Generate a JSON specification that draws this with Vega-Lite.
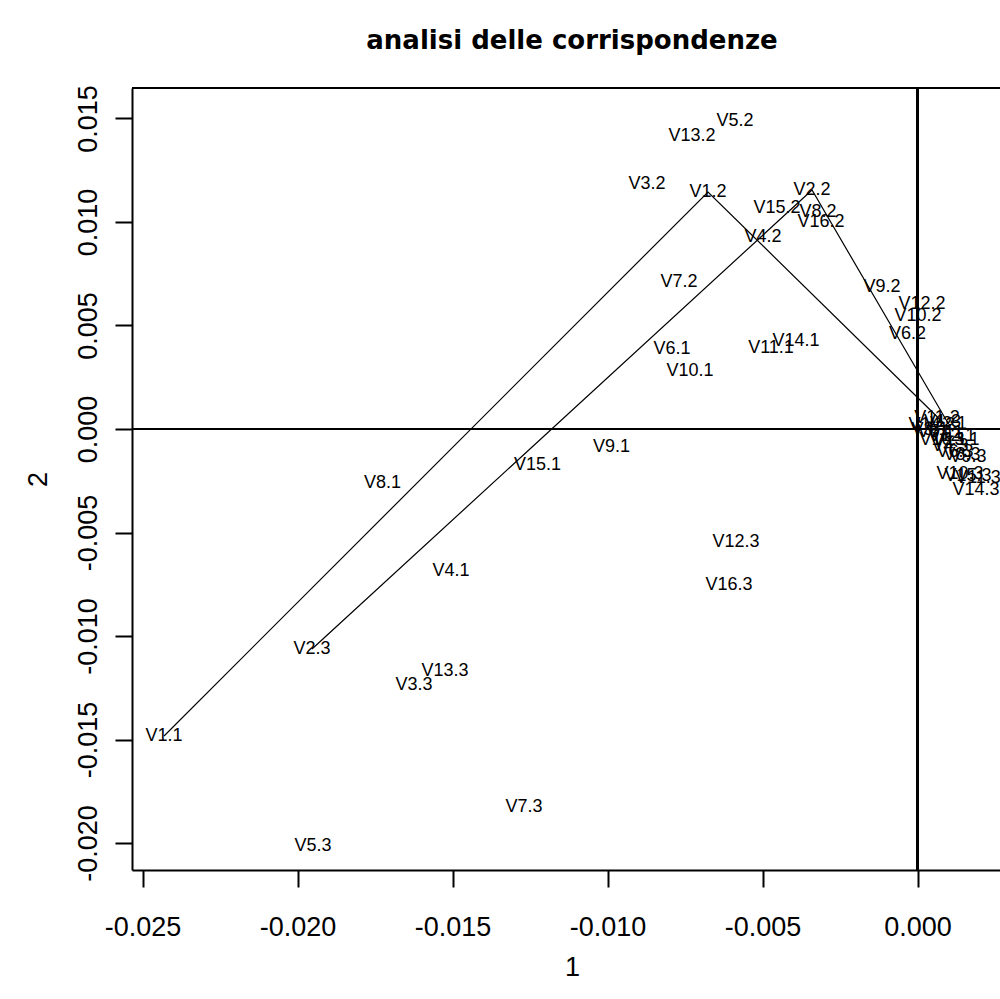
{
  "$schema": "https://vega.github.io/schema/vega-lite/v6.json",
  "autosize": "none",
  "width": 868,
  "height": 782,
  "padding": {"left": 132, "top": 88, "right": 0, "bottom": 129},
  "background": "white",
  "title": {
    "text": "analisi delle corrispondenze",
    "font": "DejaVu Sans",
    "fontWeight": "bold",
    "fontSize": 26,
    "color": "black",
    "anchor": "middle",
    "frame": "group",
    "baseline": "alphabetic",
    "offset": 10,
    "dx": 6
  },
  "config": {
    "view": {"stroke": null},
    "axis": {
      "grid": false,
      "domainColor": "black",
      "domainWidth": 2,
      "tickColor": "black",
      "tickWidth": 2,
      "tickSize": 17,
      "labelColor": "black",
      "labelFont": "Liberation Sans",
      "labelFontSize": 27,
      "labelFlush": false,
      "labelOverlap": false,
      "labelBound": false,
      "titleColor": "black",
      "titleFont": "Liberation Sans",
      "titleFontSize": 27,
      "titleFontWeight": "normal"
    }
  },
  "datasets": {
    "pts": [
      {"label": "V1.1", "var": "V1", "cat": 1, "x": -0.024306, "y": -0.014831},
      {"label": "V1.2", "var": "V1", "cat": 2, "x": -0.006758, "y": 0.011449},
      {"label": "V1.3", "var": "V1", "cat": 3, "x": 0.000806, "y": 0.000338},
      {"label": "V2.1", "var": "V2", "cat": 1, "x": 0.001, "y": 0.000242},
      {"label": "V2.2", "var": "V2", "cat": 2, "x": -0.003403, "y": 0.011546},
      {"label": "V2.3", "var": "V2", "cat": 3, "x": -0.019532, "y": -0.010628},
      {"label": "V3.1", "var": "V3", "cat": 1, "x": 0.000403, "y": -0.000048},
      {"label": "V3.2", "var": "V3", "cat": 2, "x": -0.008726, "y": 0.011836},
      {"label": "V3.3", "var": "V3", "cat": 3, "x": -0.016242, "y": -0.012367},
      {"label": "V4.1", "var": "V4", "cat": 1, "x": -0.015048, "y": -0.00686},
      {"label": "V4.2", "var": "V4", "cat": 2, "x": -0.004984, "y": 0.009275},
      {"label": "V4.3", "var": "V4", "cat": 3, "x": 0.001048, "y": -0.000821},
      {"label": "V5.1", "var": "V5", "cat": 1, "x": 0.000597, "y": -0.000145},
      {"label": "V5.2", "var": "V5", "cat": 2, "x": -0.005887, "y": 0.014879},
      {"label": "V5.3", "var": "V5", "cat": 3, "x": -0.0195, "y": -0.020145},
      {"label": "V6.1", "var": "V6", "cat": 1, "x": -0.007919, "y": 0.003865},
      {"label": "V6.2", "var": "V6", "cat": 2, "x": -0.000323, "y": 0.004589},
      {"label": "V6.3", "var": "V6", "cat": 3, "x": 0.00121, "y": -0.001111},
      {"label": "V7.1", "var": "V7", "cat": 1, "x": 0.000887, "y": -0.000193},
      {"label": "V7.2", "var": "V7", "cat": 2, "x": -0.007694, "y": 0.007101},
      {"label": "V7.3", "var": "V7", "cat": 3, "x": -0.012694, "y": -0.018261},
      {"label": "V8.1", "var": "V8", "cat": 1, "x": -0.017258, "y": -0.002585},
      {"label": "V8.2", "var": "V8", "cat": 2, "x": -0.00321, "y": 0.010483},
      {"label": "V8.3", "var": "V8", "cat": 3, "x": 0.001435, "y": -0.001256},
      {"label": "V9.1", "var": "V9", "cat": 1, "x": -0.009871, "y": -0.00087},
      {"label": "V9.2", "var": "V9", "cat": 2, "x": -0.001145, "y": 0.00686},
      {"label": "V9.3", "var": "V9", "cat": 3, "x": 0.001629, "y": -0.001353},
      {"label": "V10.1", "var": "V10", "cat": 1, "x": -0.007339, "y": 0.002802},
      {"label": "V10.2", "var": "V10", "cat": 2, "x": 0.000016, "y": 0.005459},
      {"label": "V10.3", "var": "V10", "cat": 3, "x": 0.001371, "y": -0.002174},
      {"label": "V11.1", "var": "V11", "cat": 1, "x": -0.004726, "y": 0.003913},
      {"label": "V11.2", "var": "V11", "cat": 2, "x": 0.000629, "y": 0.000531},
      {"label": "V11.3", "var": "V11", "cat": 3, "x": 0.001952, "y": -0.002367},
      {"label": "V12.1", "var": "V12", "cat": 1, "x": 0.001113, "y": -0.000338},
      {"label": "V12.2", "var": "V12", "cat": 2, "x": 0.000145, "y": 0.006039},
      {"label": "V12.3", "var": "V12", "cat": 3, "x": -0.005855, "y": -0.005459},
      {"label": "V13.1", "var": "V13", "cat": 1, "x": 0.001242, "y": -0.000531},
      {"label": "V13.2", "var": "V13", "cat": 2, "x": -0.007274, "y": 0.014155},
      {"label": "V13.3", "var": "V13", "cat": 3, "x": -0.015242, "y": -0.011691},
      {"label": "V14.1", "var": "V14", "cat": 1, "x": -0.003919, "y": 0.004251},
      {"label": "V14.2", "var": "V14", "cat": 2, "x": 0.000468, "y": 0.000193},
      {"label": "V14.3", "var": "V14", "cat": 3, "x": 0.001887, "y": -0.002947},
      {"label": "V15.1", "var": "V15", "cat": 1, "x": -0.012258, "y": -0.001725},
      {"label": "V15.2", "var": "V15", "cat": 2, "x": -0.004532, "y": 0.010676},
      {"label": "V15.3", "var": "V15", "cat": 3, "x": 0.001629, "y": -0.002271},
      {"label": "V16.1", "var": "V16", "cat": 1, "x": 0.000823, "y": -0.000531},
      {"label": "V16.2", "var": "V16", "cat": 2, "x": -0.003113, "y": 0.01},
      {"label": "V16.3", "var": "V16", "cat": 3, "x": -0.006081, "y": -0.007536}
    ]
  },
  "data": {"name": "pts"},
  "encoding": {
    "x": {
      "field": "x",
      "type": "quantitative",
      "scale": {"domain": [-0.025339, 0.002661], "nice": false, "zero": false},
      "axis": {
        "orient": "bottom",
        "values": [-0.025, -0.02, -0.015, -0.01, -0.005, 0],
        "labelExpr": "(datum.value < 0 ? '-' : '') + format(abs(datum.value), '.3f')",
        "labelBaseline": "alphabetic",
        "labelPadding": 48,
        "title": "1",
        "titleX": 440,
        "titleY": 105,
        "titleAlign": "center",
        "titleBaseline": "alphabetic"
      }
    },
    "y": {
      "field": "y",
      "type": "quantitative",
      "scale": {"domain": [-0.021304, 0.016473], "nice": false, "zero": false},
      "axis": {
        "orient": "left",
        "values": [-0.02, -0.015, -0.01, -0.005, 0, 0.005, 0.01, 0.015],
        "labelExpr": "(datum.value < 0 ? '-' : '') + format(abs(datum.value), '.3f')",
        "labelAngle": -90,
        "labelAlign": "center",
        "labelBaseline": "alphabetic",
        "labelPadding": 19,
        "title": "2",
        "titleAngle": -90,
        "titleX": -86,
        "titleY": 391,
        "titleAlign": "center",
        "titleBaseline": "alphabetic"
      }
    }
  },
  "layer": [
    {
      "mark": {"type": "rule", "color": "black", "strokeWidth": 2},
      "encoding": {"y": {"datum": 0}, "x": null}
    },
    {
      "mark": {"type": "rule", "color": "black", "strokeWidth": 2},
      "encoding": {"x": {"datum": 0}, "y": null}
    },
    {
      "mark": {"type": "rule", "color": "black", "strokeWidth": 2},
      "encoding": {"y": {"datum": 0.016473}, "x": null}
    },
    {
      "transform": [{"filter": "datum.var == 'V1' || datum.var == 'V2'"}],
      "mark": {"type": "line", "color": "black", "strokeWidth": 1.2},
      "encoding": {
        "detail": {"field": "var", "type": "nominal"},
        "order": {"field": "cat", "type": "quantitative"}
      }
    },
    {
      "mark": {
        "type": "text",
        "font": "Liberation Sans",
        "fontSize": 18,
        "color": "black",
        "align": "center",
        "baseline": "middle"
      },
      "encoding": {"text": {"field": "label", "type": "nominal"}}
    }
  ]
}
